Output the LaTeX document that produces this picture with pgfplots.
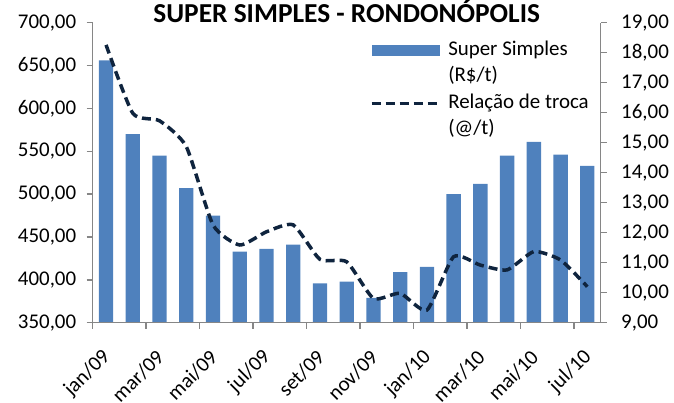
\documentclass[border=0pt]{standalone}
\usepackage{pgfplots}
\pgfplotsset{compat=1.18}
\usepackage{fontspec}
\setmainfont{Carlito}

\definecolor{barblue}{HTML}{4F81BD}
\definecolor{navy}{HTML}{0F243E}
\definecolor{axgray}{HTML}{868686}
\newcommand\fs{\fontsize{21}{25}\selectfont}

% month index, price (R$/t), exchange ratio (@/t)
\pgfplotstableread{
x ss rel
0 656 18.26
1 570 15.98
2 545 15.73
3 507 14.87
4 475 12.26
5 433 11.59
6 436 12.03
7 441 12.26
8 396 11.11
9 398 11.03
10 379 9.81
11 409 9.98
12 415 9.42
13 500 11.20
14 512 10.92
15 545 10.76
16 561 11.37
17 546 11.09
18 533 10.20
}\data

\begin{document}
\begin{tikzpicture}
\useasboundingbox (-92.7bp,-80.3bp) rectangle (581.3bp,322.7bp);
\pgfplotsset{
  common/.style={
    width=508bp, height=300bp, scale only axis,
    xmin=-0.5, xmax=18.5,
    axis line style={axgray, line width=1.5bp},
    major tick length=6bp, tick align=outside,
    ticklabel style={font=\fs},
    /pgf/number format/.cd, fixed, fixed zerofill, precision=2,
    use comma, 1000 sep={}, assume math mode=true,
  },
}
\begin{axis}[common,
  axis x line*=bottom, axis y line*=left,
  ymin=350, ymax=700, ytick={350,400,...,700},
  ytick style={axgray, line width=1.5bp},
  yticklabel style={xshift=-7bp},
  xtick={0,2,...,18}, xtick style={draw=none},
  xticklabels={jan/09,mar/09,mai/09,jul/09,set/09,nov/09,jan/10,mar/10,mai/10,jul/10},
  xticklabel style={yshift=-25bp, xshift=1bp, rotate=45, anchor=east, inner sep=0pt},
  title={SUPER SIMPLES - RONDONÓPOLIS},
  title style={font=\fontsize{27.5}{30}\selectfont\bfseries, at={(0.5,1)}, anchor=base, yshift=-6bp},
  legend style={at={(0.545,0.952)}, anchor=north west, draw=none, fill=none,
    inner sep=0pt, row sep=0pt, font=\fs,
    nodes={inner sep=0pt, text height=18bp, text depth=8.5bp},
    /tikz/every odd column/.append style={column sep=7bp}},
  legend cell align=left,
]
\addplot[ybar, bar width=0.535, fill=barblue, draw=none,
  legend image code/.code={\fill[barblue] (0bp,-5.5bp) rectangle (68bp,5.5bp);}]
  table[x=x, y=ss]{\data};
\addlegendimage{empty legend}
\addlegendimage{legend image code/.code={\draw[navy, line width=3.5bp, dash pattern=on 9bp off 5bp] (0bp,0bp) -- (68bp,0bp);}}
\addlegendimage{empty legend}
\legend{Super Simples, (R\$/t), Relação de troca, (@/t)}
\end{axis}

\begin{axis}[common,
  axis x line*=bottom, axis y line*=right,
  ymin=9, ymax=19, ytick={9,10,...,19},
  ytick style={axgray, line width=1.5bp},
  yticklabel style={xshift=11bp},
  xtick={-0.5,1.5,...,17.5}, xticklabels={},
  xtick style={axgray, line width=1.5bp},
]
\addplot[navy, line width=3.5bp, dash pattern=on 9bp off 5bp, smooth, tension=0.35]
  table[x=x, y=rel]{\data};
\end{axis}
\end{tikzpicture}
\end{document}
